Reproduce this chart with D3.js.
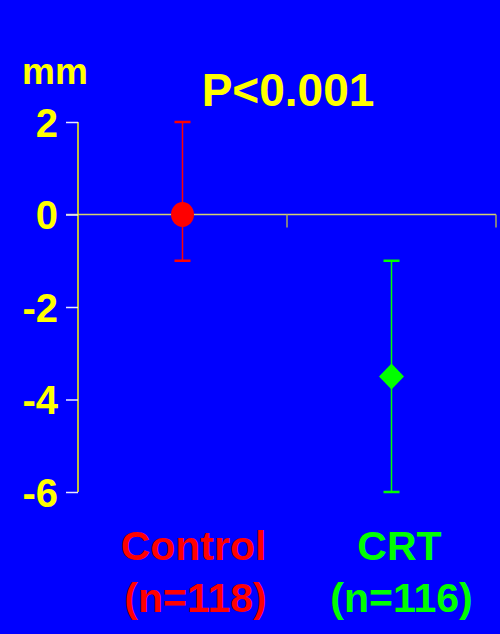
<!DOCTYPE html>
<html>
<head>
<meta charset="utf-8">
<script src="https://cdn.jsdelivr.net/npm/d3@7"></script>
<style>
  html, body { margin: 0; padding: 0; background: #0000ff; }
  svg { display: block; }
  text { font-family: "Liberation Sans", Arial, sans-serif; font-weight: bold; }
</style>
</head>
<body>
<svg id="chart" width="500" height="634"></svg>
<script>
// Change in measurement (mm) per group: mean with low/high range
const groups = ["Control", "CRT"];
const groupCounts = ["(n=118)", "(n=116)"];
const means = [0, -3.5];
const lows = [-1, -6];
const highs = [2, -1];
const groupColors = ["#ff0000", "#00ff00"];
const markerShapes = ["circle", "diamond"];
const yTicks = [2, 0, -2, -4, -6];
const unitLabel = "mm";
const pLabel = "P<0.001";

const svg = d3.select("#chart");
const W = 500, H = 634;

svg.append("rect").attr("width", W).attr("height", H).attr("fill", "#0000ff");

const y = d3.scaleLinear().domain([-6, 2]).range([492, 122]);
const x = d3.scaleBand().domain(groups).range([78, 496]);

// Zero reference line with band boundary ticks
svg.append("line")
  .attr("x1", 66).attr("x2", x.range()[1])
  .attr("y1", y(0)).attr("y2", y(0))
  .attr("stroke", "#d4d070").attr("stroke-width", 1.5);

const edges = [x.range()[0] + x.bandwidth(), x.range()[1]];
svg.selectAll("line.xt").data(edges).enter().append("line")
  .attr("class", "xt")
  .attr("x1", d => d).attr("x2", d => d)
  .attr("y1", y(0)).attr("y2", y(0) + 13)
  .attr("stroke", "#a8a860").attr("stroke-width", 1.5);

// Y axis (plain hyphen for negatives)
const yAxis = d3.axisLeft(y).tickValues(yTicks).tickSize(12).tickPadding(8).tickFormat(d => String(d));
const gy = svg.append("g").attr("transform", "translate(78,0)").call(yAxis);
gy.select(".domain").attr("stroke", "#ffff00").attr("stroke-width", 1.5)
  .attr("d", `M0,${y(2)}V${y(-6)}`);
gy.selectAll(".tick line").attr("stroke", "#e8e8ff").attr("stroke-width", 1.5);
gy.selectAll(".tick text")
  .attr("fill", "#ffff00")
  .attr("font-size", 40)
  .attr("font-weight", "bold")
  .attr("font-family", "'Liberation Sans', Arial, sans-serif")
  .attr("dy", "0.36em");

// Error bars and markers
const data = groups.map((g, i) => ({
  g, mean: means[i], lo: lows[i], hi: highs[i], color: groupColors[i], shape: markerShapes[i]
}));

const cx = d => x(d.g) + x.bandwidth() / 2;
const capW = 8;

const bars = svg.selectAll("g.bar").data(data).enter().append("g").attr("class", "bar");
bars.append("line")
  .attr("x1", cx).attr("x2", cx)
  .attr("y1", d => y(d.hi)).attr("y2", d => y(d.lo))
  .attr("stroke", d => d.color).attr("stroke-width", 1.5);
bars.selectAll("line.cap").data(d => [[d, d.hi], [d, d.lo]]).enter().append("line")
  .attr("class", "cap")
  .attr("x1", p => cx(p[0]) - capW).attr("x2", p => cx(p[0]) + capW)
  .attr("y1", p => y(p[1])).attr("y2", p => y(p[1]))
  .attr("stroke", p => p[0].color).attr("stroke-width", 2.5);

bars.each(function(d) {
  const g = d3.select(this);
  if (d.shape === "circle") {
    g.append("ellipse")
      .attr("cx", cx(d)).attr("cy", y(d.mean))
      .attr("rx", 11.5).attr("ry", 12.5)
      .attr("fill", d.color);
  } else {
    const px = cx(d), py = y(d.mean);
    g.append("path")
      .attr("d", `M${px},${py - 13}L${px + 12.5},${py}L${px},${py + 13}L${px - 12.5},${py}Z`)
      .attr("fill", d.color);
  }
});

// Titles
svg.append("text").attr("x", 55).attr("y", 84).attr("text-anchor", "middle")
  .attr("font-size", 37).attr("fill", "#ffff00").text(unitLabel);
svg.append("text").attr("x", 288).attr("y", 106).attr("text-anchor", "middle")
  .attr("font-size", 46).attr("fill", "#ffff00").text(pLabel);

// Group labels
const labelShift = [11, 8];
svg.selectAll("text.grp").data(data).enter().append("text")
  .attr("class", "grp")
  .attr("x", (d, i) => cx(d) + labelShift[i]).attr("y", 560)
  .attr("text-anchor", "middle").attr("font-size", 41)
  .attr("fill", d => d.color).text(d => d.g);
svg.selectAll("text.cnt").data(data).enter().append("text")
  .attr("class", "cnt")
  .attr("x", (d, i) => cx(d) + labelShift[i] + 2).attr("y", 612)
  .attr("text-anchor", "middle").attr("font-size", 41)
  .attr("fill", d => d.color).text((d, i) => groupCounts[i]);
</script>
</body>
</html>
